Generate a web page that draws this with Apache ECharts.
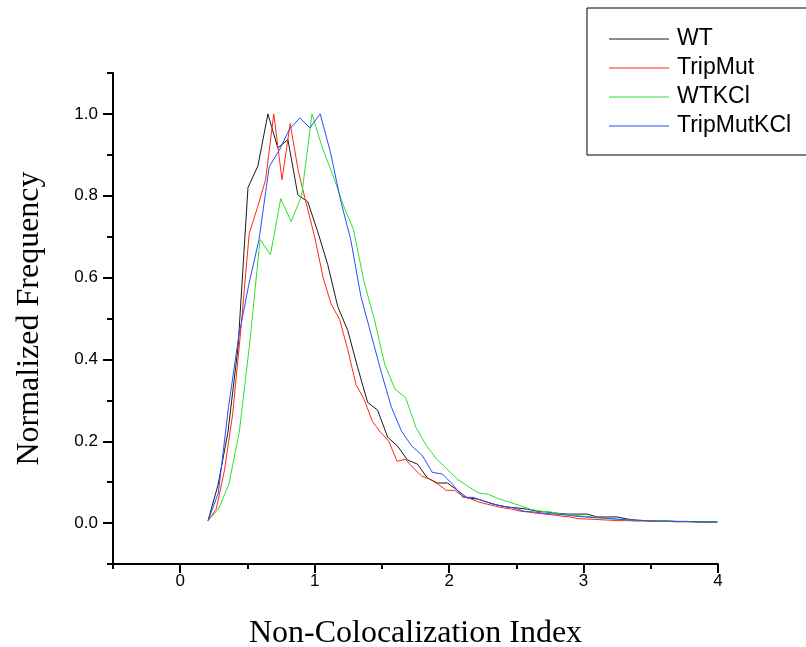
<!DOCTYPE html>
<html>
<head>
<meta charset="utf-8">
<script src="https://cdn.jsdelivr.net/npm/echarts@6/dist/echarts.min.js"></script>
<style>
  html, body { margin: 0; padding: 0; background: #fff; overflow: hidden; }
  #count { width: 806px; height: 647px; }
</style>
</head>
<body>
<div id="count"></div>
<script>
// tick labels
var xTicks = [0, 1, 2, 3, 4];
var yTicks = [0, 0.2, 0.4, 0.6, 0.8, 1.0];

// WT
var wtX = [0.207, 0.281, 0.355, 0.430, 0.504, 0.578, 0.652, 0.726, 0.801, 0.875, 0.949, 1.023, 1.097, 1.172, 1.246, 1.320, 1.394, 1.468, 1.543, 1.617, 1.691, 1.765, 1.839, 1.914, 1.988, 2.062, 2.136, 2.210, 2.285, 2.359, 2.433, 2.507, 2.581, 2.656, 2.730, 2.804, 2.878, 2.952, 3.027, 3.101, 3.175, 3.249, 3.323, 3.398, 3.472, 3.546, 3.620, 3.694, 3.769, 3.843, 3.917, 3.991];
var wtY = [0.006, 0.093, 0.222, 0.430, 0.820, 0.873, 1.000, 0.917, 0.937, 0.802, 0.785, 0.712, 0.632, 0.529, 0.471, 0.380, 0.295, 0.276, 0.210, 0.188, 0.154, 0.144, 0.110, 0.098, 0.098, 0.080, 0.061, 0.059, 0.051, 0.044, 0.039, 0.037, 0.034, 0.029, 0.027, 0.024, 0.022, 0.022, 0.022, 0.015, 0.015, 0.015, 0.010, 0.007, 0.006, 0.005, 0.005, 0.004, 0.004, 0.003, 0.003, 0.003];

// TripMut
var tripMutX = [0.207, 0.268, 0.329, 0.390, 0.451, 0.513, 0.574, 0.635, 0.696, 0.757, 0.818, 0.879, 0.940, 1.001, 1.063, 1.124, 1.185, 1.246, 1.307, 1.368, 1.429, 1.490, 1.551, 1.613, 1.674, 1.735, 1.796, 1.857, 1.918, 1.979, 2.040, 2.101, 2.163, 2.224, 2.285, 2.346, 2.407, 2.468, 2.529, 2.590, 2.651, 2.713, 2.774, 2.835, 2.896, 2.957, 3.018, 3.079, 3.140, 3.201, 3.263, 3.324, 3.385, 3.446, 3.507, 3.568, 3.629, 3.690, 3.751, 3.813, 3.874, 3.935, 3.996];
var tripMutY = [0.006, 0.034, 0.129, 0.266, 0.473, 0.707, 0.771, 0.839, 1.000, 0.839, 0.976, 0.859, 0.778, 0.698, 0.600, 0.534, 0.498, 0.424, 0.339, 0.302, 0.249, 0.222, 0.200, 0.151, 0.156, 0.134, 0.115, 0.107, 0.095, 0.080, 0.080, 0.066, 0.059, 0.051, 0.046, 0.041, 0.037, 0.034, 0.029, 0.027, 0.024, 0.022, 0.020, 0.017, 0.015, 0.011, 0.010, 0.009, 0.008, 0.007, 0.006, 0.006, 0.005, 0.005, 0.004, 0.004, 0.004, 0.003, 0.003, 0.003, 0.002, 0.002, 0.002];

// WTKCl
var wtKClX = [0.207, 0.284, 0.362, 0.439, 0.516, 0.594, 0.671, 0.748, 0.825, 0.903, 0.980, 1.057, 1.135, 1.212, 1.289, 1.367, 1.444, 1.521, 1.598, 1.676, 1.753, 1.830, 1.908, 1.985, 2.062, 2.140, 2.217, 2.294, 2.371, 2.449, 2.526, 2.603, 2.681, 2.758, 2.835, 2.913, 2.990, 3.067, 3.144, 3.222, 3.299, 3.376, 3.454, 3.531, 3.608, 3.686, 3.763, 3.840, 3.917, 3.995];
var wtKClY = [0.006, 0.034, 0.095, 0.222, 0.437, 0.693, 0.656, 0.793, 0.737, 0.800, 1.000, 0.917, 0.851, 0.778, 0.717, 0.590, 0.498, 0.388, 0.327, 0.307, 0.234, 0.190, 0.156, 0.132, 0.107, 0.090, 0.074, 0.070, 0.059, 0.051, 0.043, 0.034, 0.029, 0.027, 0.022, 0.020, 0.017, 0.015, 0.012, 0.010, 0.008, 0.007, 0.006, 0.005, 0.005, 0.004, 0.004, 0.003, 0.003, 0.003];

// TripMutKCl
var tripMutKClX = [0.207, 0.283, 0.359, 0.434, 0.510, 0.586, 0.662, 0.738, 0.813, 0.889, 0.965, 1.041, 1.117, 1.192, 1.268, 1.344, 1.420, 1.496, 1.571, 1.647, 1.723, 1.799, 1.875, 1.950, 2.026, 2.102, 2.178, 2.254, 2.329, 2.405, 2.481, 2.557, 2.633, 2.708, 2.784, 2.860, 2.936, 3.012, 3.087, 3.163, 3.239, 3.315, 3.391, 3.466, 3.542, 3.618, 3.694, 3.770, 3.845, 3.921, 3.997];
var tripMutKClY = [0.006, 0.073, 0.283, 0.454, 0.583, 0.693, 0.871, 0.912, 0.963, 0.990, 0.966, 1.000, 0.907, 0.790, 0.693, 0.554, 0.461, 0.368, 0.283, 0.224, 0.188, 0.166, 0.124, 0.120, 0.095, 0.063, 0.063, 0.054, 0.046, 0.041, 0.037, 0.029, 0.027, 0.024, 0.022, 0.020, 0.017, 0.015, 0.013, 0.012, 0.010, 0.008, 0.007, 0.006, 0.005, 0.005, 0.004, 0.004, 0.003, 0.003, 0.003];

function pairs(xs, ys) {
    return xs.map(function (x, i) { return [x, ys[i]]; });
}

function line(name, color, xs, ys) {
    return {
        name: name,
        type: 'line',
        symbol: 'none',
        data: pairs(xs, ys),
        lineStyle: { color: color, width: 1 },
        itemStyle: { color: color }
    };
}

// plot box: x from -0.5 to 4, y from -0.1 to 1.1
var W = 806, H = 647;
var L = 113, R = 88, T = 73, B = 83;
var pxPerX = (W - L - R) / 4.5;
var pxPerY = (H - T - B) / 1.2;

var labelFont = { fontFamily: 'Liberation Sans', fontSize: 17, color: '#000' };
var nameFont = { fontFamily: 'Liberation Serif', fontSize: 32, color: '#000' };
var tickStyle = { color: '#000', width: 2 };
var hidden = { show: false, onZero: false };

var option = {
    animation: false,
    backgroundColor: '#fff',
    grid: [
        // data grid, minor ticks
        { left: L, right: R, top: T, bottom: B, outerBoundsMode: 'none' },
        // x from 0 to 4, major x ticks + labels
        { left: L + 0.5 * pxPerX, right: R, top: T, bottom: B, outerBoundsMode: 'none' },
        // y from 0 to 1, major y ticks + labels
        { left: L, right: R, top: T + 0.1 * pxPerY, bottom: B + 0.1 * pxPerY, outerBoundsMode: 'none' }
    ],
    legend: {
        orient: 'vertical',
        left: 587,
        top: 8,
        padding: [19, 30, 17, 22],
        borderColor: '#000',
        borderWidth: 1,
        icon: 'rect',
        itemWidth: 60,
        itemHeight: 1,
        itemGap: 5,
        textStyle: { fontFamily: 'Liberation Sans', fontSize: 23, lineHeight: 24, color: '#000', padding: [0, 0, 0, 3] },
        data: ['WT', 'TripMut', 'WTKCl', 'TripMutKCl']
    },
    xAxis: [
        {
            gridIndex: 0,
            type: 'value',
            min: -0.5,
            max: 4,
            interval: 0.5,
            name: 'Non-Colocalization Index',
            nameLocation: 'middle',
            nameGap: 54,
            nameTextStyle: nameFont,
            axisLine: { show: true, onZero: false, lineStyle: tickStyle },
            axisTick: { show: true, length: 5, lineStyle: tickStyle },
            axisLabel: { show: false },
            splitLine: { show: false }
        },
        {
            gridIndex: 1,
            type: 'value',
            min: 0,
            max: 4,
            interval: 1,
            axisLine: hidden,
            axisTick: { show: true, length: 9, lineStyle: tickStyle },
            axisLabel: Object.assign({ margin: 9 }, labelFont),
            splitLine: { show: false }
        },
        {
            gridIndex: 2,
            type: 'value',
            show: false,
            axisLine: hidden
        }
    ],
    yAxis: [
        {
            gridIndex: 0,
            type: 'value',
            min: -0.1,
            max: 1.1,
            interval: 0.1,
            name: 'Normalized Frequency',
            nameLocation: 'middle',
            nameGap: 67,
            nameTextStyle: nameFont,
            axisLine: { show: true, onZero: false, lineStyle: tickStyle },
            axisTick: { show: true, length: 6, lineStyle: tickStyle },
            axisLabel: { show: false },
            splitLine: { show: false }
        },
        {
            gridIndex: 1,
            type: 'value',
            show: false,
            axisLine: hidden
        },
        {
            gridIndex: 2,
            type: 'value',
            min: 0,
            max: 1,
            interval: 0.2,
            axisLine: hidden,
            axisTick: { show: true, length: 10, lineStyle: tickStyle },
            axisLabel: Object.assign({
                margin: 15,
                formatter: function (v) { return v.toFixed(1); }
            }, labelFont),
            splitLine: { show: false }
        }
    ],
    series: [
        line('WT', '#1a1a1a', wtX, wtY),
        line('TripMut', '#ff2a10', tripMutX, tripMutY),
        line('WTKCl', '#2ee02e', wtKClX, wtKClY),
        line('TripMutKCl', '#2a4dff', tripMutKClX, tripMutKClY)
    ]
};

var myChart = echarts.init(document.getElementById('count'));
myChart.setOption(option);
</script>
</body>
</html>
